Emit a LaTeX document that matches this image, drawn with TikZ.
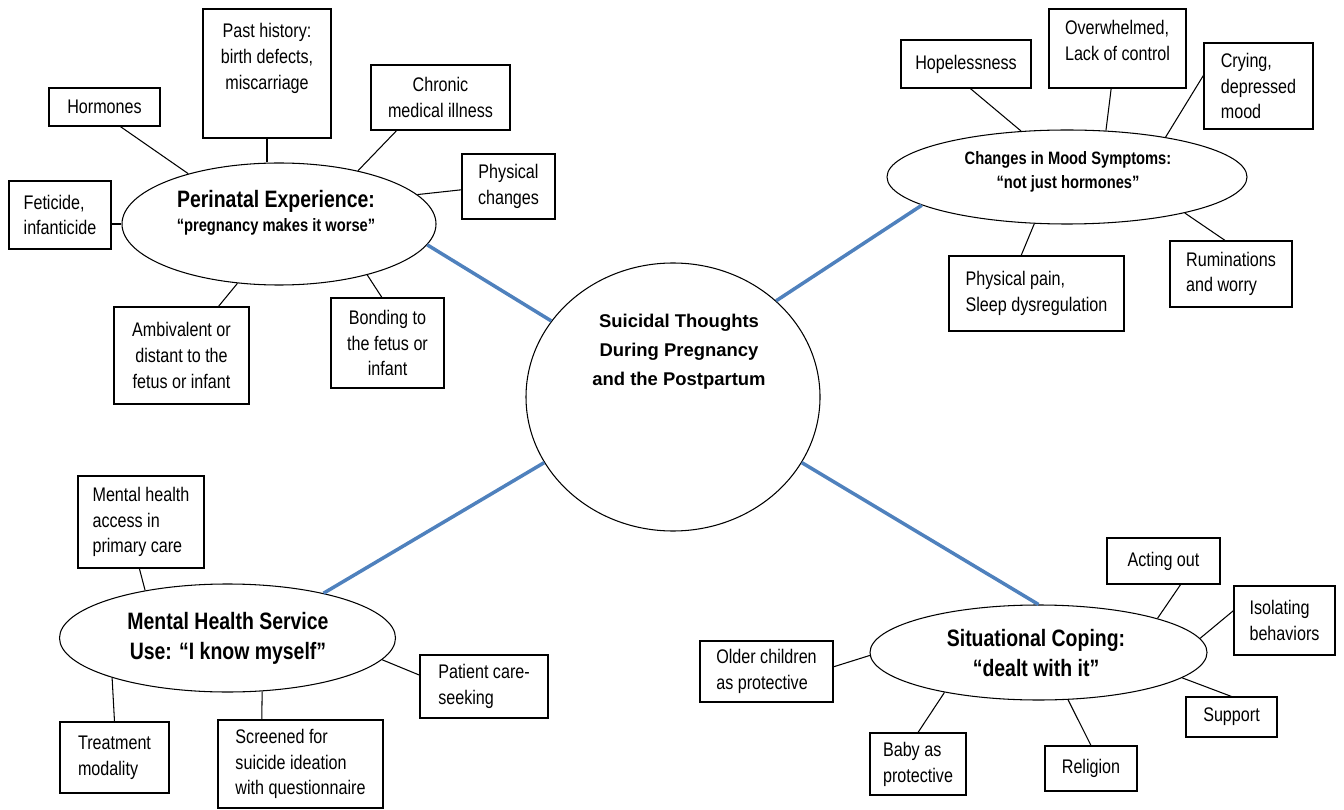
\documentclass[tikz,border=0pt]{standalone}
\usepackage{fontspec}
\setmainfont{Liberation Sans}
\newfontfamily\narrowsf[FakeStretch=0.82]{Liberation Sans}
\usetikzlibrary{shapes.geometric}
\definecolor{spokeblue}{RGB}{79,129,189}
\newcommand{\boxfont}{\narrowsf\fontsize{11.2}{14.7}\selectfont}
\newcommand{\bigtitle}{\narrowsf\bfseries\fontsize{13.5}{17}\selectfont}
\newcommand{\smalltitle}{\narrowsf\bfseries\fontsize{10.2}{13.6}\selectfont}
\newcommand{\hubtitle}{\bfseries\fontsize{10.5}{16.4}\selectfont}
\tikzset{hub/.style={draw, ellipse, line width=0.6pt, inner sep=0pt},
  ebox/.style={draw, line width=0.6pt, inner sep=0pt, align=left, font=\boxfont},
  dims/.style 2 args={minimum width=#1*0.02cm, minimum height=#2*0.02cm},
  twig/.style={line width=0.6pt},
  spoke/.style={line width=2pt, spokeblue}}

\begin{document}
\begin{tikzpicture}[x=0.02cm, y=-0.02cm]
    \useasboundingbox (0,0) rectangle (1344,810);
    \node[hub, dims={294}{268}] (st) at (673,397) {};
    \node[hub, dims={314}{122}] (pe) at (279,224) {};
    \node[hub, dims={360}{94}] (ms) at (1067,177) {};
    \node[hub, dims={336}{108}] (mh) at (227.5,638) {};
    \node[hub, dims={337}{95}] (sc) at (1038.5,652.5) {};
    \node[align=center, font=\hubtitle] (stt) at (679,352) {Suicidal Thoughts\\During Pregnancy\\and the Postpartum};
    \node[align=center, font=\smalltitle] (pet) at (276,213) {{\bigtitle Perinatal Experience:}\\“pregnancy makes it worse”};
    \node[align=center, font=\smalltitle] (mst) at (1068,172) {Changes in Mood Symptoms:\\“not just hormones”};
    \node[align=center, font=\bigtitle] (mht) at (228,638) {Mental Health Service\\Use: “I know myself”};
    \node[align=center, font=\bigtitle] (sct) at (1036,653) {Situational Coping:\\“dealt with it”};

    \node[ebox, align=center, dims={111}{38}] (hormones) at (104.5,107) {Hormones};
    \node[ebox, align=center, dims={128}{129}] (hist) at (267,73.5) {Past history:\\birth defects,\\miscarriage\\[5pt]\mbox{}};
    \node[ebox, align=center, dims={139}{65}] (chronic) at (440.5,97.5) {Chronic\\medical illness};
    \node[ebox, align=center, dims={93}{65}] (physical) at (508.5,186.5) {Physical\\changes};
    \node[ebox, dims={102}{68}] (feticide) at (60,215) {Feticide,\\infanticide};
    \node[ebox, align=center, dims={135}{97}] (ambivalent) at (181.5,355.5) {Ambivalent or\\distant to the\\fetus or infant};
    \node[ebox, align=center, dims={113}{90}] (bonding) at (387.5,343) {Bonding to\\the fetus or\\infant};

    \node[ebox, align=center, dims={130}{48}] (hopeless) at (966,64) {Hopelessness};
    \node[ebox, dims={137}{79}] (overwhelmed) at (1117.5,48.5) {Overwhelmed,\\Lack of control\\[-5.7pt]\mbox{}};
    \node[ebox, dims={109}{86}] (crying) at (1258.5,86) {Crying,\\depressed\\mood};
    \node[ebox, dims={175}{75}] (pain) at (1036.5,293.5) {Physical pain,\\Sleep dysregulation};
    \node[ebox, dims={122}{66}] (ruminations) at (1231,274) {Ruminations\\and worry};

    \node[ebox, dims={126}{92}] (access) at (141,522) {Mental health\\access in\\primary care};
    \node[ebox, dims={109}{71}] (treatment) at (114.5,757.5) {Treatment\\modality};
    \node[ebox, dims={165}{88}] (screened) at (300.5,764) {Screened for\\suicide ideation\\with questionnaire};
    \node[ebox, dims={128}{63}] (patient) at (484,686.5) {Patient care-\\seeking};

    \node[ebox, dims={113}{46}] (acting) at (1163.5,561) {Acting out};
    \node[ebox, dims={101}{69}] (isolating) at (1284.5,620.5) {Isolating\\behaviors};
    \node[ebox, dims={133}{61}] (older) at (766.5,671.5) {Older children\\as protective};
    \node[ebox, dims={96}{62}] (baby) at (918,764) {Baby as\\protective};
    \node[ebox, dims={92}{45}] (religion) at (1091,768.5) {Religion};
    \node[ebox, dims={91}{40}] (support) at (1231.5,717) {Support};

    \draw[twig] (hormones.-51) -- (pe.151);
    \draw[twig] (hist.south) -- (hist.south |- pe.north);
    \draw[twig] (chronic.-143) -- (pe.34);
    \draw[twig] (physical.-176) -- (pe.12);
    \draw[twig] (feticide.east |- pe.west) -- (pe.west);
    \draw[twig] (ambivalent.53) -- (pe.-125);
    \draw[twig] (bonding.97) -- (pe.-30);

    \draw[twig] (hopeless.-80) -- (ms.135);
    \draw[twig] (overwhelmed.-99) -- (ms.50);
    \draw[twig] (crying.169) -- (ms.22);
    \draw[twig] (pain.112) -- (ms.-125);
    \draw[twig] (ruminations.100) -- (ms.-17);

    \draw[twig] (access.-92) -- (mh.150);
    \draw[twig] (treatment.north) -- (mh.-161);
    \draw[twig] (screened.131) -- (mh.-57);
    \draw[twig] (patient.170) -- (mh.-8);

    \draw[twig] (acting.-54) -- (sc.16);
    \draw[twig] (isolating.169) -- (sc.5);
    \draw[twig] (older.4) -- (sc.181);
    \draw[twig] (baby.north) -- (sc.-157);
    \draw[twig] (religion.north) -- (sc.-58);
    \draw[twig] (support.north) -- (sc.-10);

    \draw[spoke] (pe.-8.5) -- (st.148);
    \draw[spoke] (st.43) -- (ms.-169);
    \draw[spoke] (st.-153) -- (mh.25);
    \draw[spoke] (st.-27) -- (sc.north);
\end{tikzpicture}
\end{document}
